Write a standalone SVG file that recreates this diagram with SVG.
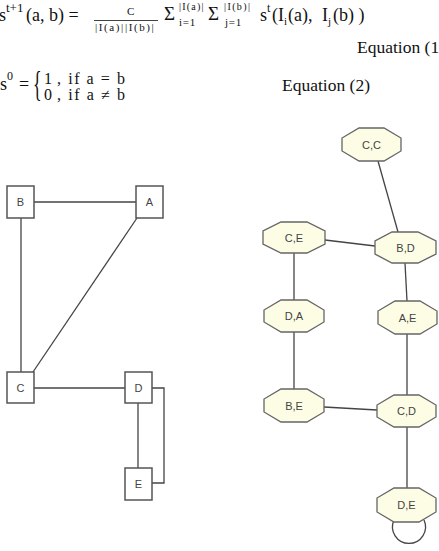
<svg xmlns="http://www.w3.org/2000/svg" width="439" height="551" viewBox="0 0 439 551">
<style>
.m{font-family:"Liberation Serif","Times New Roman",serif;fill:#111}
.b{fill:#fff;stroke:#555;stroke-width:1.5}
.o{fill:#fdfde6;stroke:#666;stroke-width:1.3}
.t{font-family:"Liberation Sans",Arial,sans-serif;font-size:11px;fill:#444;text-anchor:middle}
.e{stroke:#444;stroke-width:1.3;fill:none}
</style>
<rect width="439" height="551" fill="#fff"/>
<g id="equations">
<text class="m" x="-1" y="21" font-size="18">s</text>
<text class="m" x="6" y="12" font-size="13">t+1</text>
<text class="m" x="26" y="21" font-size="18">(a, b) =</text>
<text class="m" x="127" y="15" font-size="11">C</text>
<line x1="94" y1="20.5" x2="158" y2="20.5" stroke="#111" stroke-width="0.8"/>
<text class="m" x="95" y="31" font-size="11" letter-spacing="1.6">|I(a)||I(b)|</text>
<text class="m" x="164" y="20" font-size="19">Σ</text>
<text class="m" x="179" y="10" font-size="10" letter-spacing="1.2">|I(a)|</text>
<text class="m" x="179" y="26" font-size="11" letter-spacing="0.8">i=1</text>
<text class="m" x="208" y="20" font-size="19">Σ</text>
<text class="m" x="224" y="10" font-size="10" letter-spacing="1.4">|I(b)|</text>
<text class="m" x="225" y="26" font-size="11" letter-spacing="0.8">j=1</text>
<text class="m" x="260" y="21" font-size="18">s</text>
<text class="m" x="267" y="12" font-size="12">t</text>
<text class="m" y="21" font-size="18"><tspan x="272">(I</tspan><tspan x="284" dy="4" font-size="11">i</tspan><tspan x="288" dy="-4">(a),</tspan><tspan x="322">I</tspan><tspan x="328" dy="4" font-size="11">j</tspan><tspan x="333" dy="-4">(b) )</tspan></text>
<text class="m" x="357" y="53" font-size="17.5">Equation (1</text>
<text class="m" x="0" y="90" font-size="18">s</text>
<text class="m" x="7" y="80" font-size="12">0</text>
<text class="m" x="19" y="90" font-size="18">=</text>
<text class="m" transform="translate(33,96) scale(0.5,1)" font-size="36">{</text>
<text class="m" x="44" y="84" font-size="16">1</text>
<text class="m" x="57" y="84" font-size="16" textLength="68" lengthAdjust="spacing">, if a = b</text>
<text class="m" x="44" y="100" font-size="16">0</text>
<text class="m" x="57" y="100" font-size="16" textLength="68" lengthAdjust="spacing">, if a ≠ b</text>
<text class="m" x="282" y="91" font-size="17.5">Equation (2)</text>
</g>
<g id="connectors">
<line class="e" x1="34" y1="202" x2="136" y2="202"/>
<line class="e" x1="21" y1="218" x2="21" y2="372"/>
<line class="e" x1="137" y1="218" x2="33" y2="372"/>
<line class="e" x1="34" y1="388" x2="125" y2="388"/>
<line class="e" x1="138" y1="403" x2="138" y2="468"/>
<polyline class="e" points="152,388 164,388 164,483 152,483"/>
<line class="e" x1="378" y1="161" x2="398" y2="232"/>
<line class="e" x1="325" y1="240" x2="375" y2="246"/>
<line class="e" x1="294" y1="253" x2="294" y2="300"/>
<line class="e" x1="405" y1="263" x2="407" y2="301"/>
<line class="e" x1="294" y1="332" x2="294" y2="389"/>
<line class="e" x1="407" y1="334" x2="407" y2="395"/>
<line class="e" x1="324" y1="407" x2="377" y2="410"/>
<line class="e" x1="407" y1="427" x2="407" y2="488"/>
<path class="e" d="M394 520 A16.5 16.5 0 1 0 424 520"/>
</g>
<g id="B"><rect class="b" x="7" y="186" width="27" height="32"/><text class="t" x="20.5" y="206">B</text></g>
<g id="A"><rect class="b" x="136" y="186" width="27" height="32"/><text class="t" x="149.5" y="206">A</text></g>
<g id="C"><rect class="b" x="7" y="372" width="27" height="31"/><text class="t" x="20.5" y="392">C</text></g>
<g id="D"><rect class="b" x="125" y="372" width="27" height="31"/><text class="t" x="138.5" y="392">D</text></g>
<g id="E"><rect class="b" x="125" y="468" width="27" height="32"/><text class="t" x="138.5" y="488">E</text></g>
<g id="CC"><polygon class="o" points="359,128 384,128 401,138 401,151 384,161 359,161 342,151 342,138"/><text class="t" x="371.5" y="148.5">C,C</text></g>
<g id="CE"><polygon class="o" points="281,222 307,222 325,231 325,244 307,253 281,253 263,244 263,231"/><text class="t" x="294" y="241.5">C,E</text></g>
<g id="BD"><polygon class="o" points="392,232 418,232 436,241 436,254 418,263 392,263 375,254 375,241"/><text class="t" x="405.5" y="251.5">B,D</text></g>
<g id="DA"><polygon class="o" points="281,300 307,300 324,310 324,322 307,332 281,332 264,322 264,310"/><text class="t" x="294" y="320">D,A</text></g>
<g id="AE"><polygon class="o" points="395,301 420,301 437,311 437,324 420,334 395,334 378,324 378,311"/><text class="t" x="407.5" y="321.5">A,E</text></g>
<g id="BE"><polygon class="o" points="281,389 307,389 324,399 324,412 307,422 281,422 264,412 264,399"/><text class="t" x="294" y="409.5">B,E</text></g>
<g id="CD"><polygon class="o" points="394,395 419,395 436,405 436,417 419,427 394,427 377,417 377,405"/><text class="t" x="406.5" y="415">C,D</text></g>
<g id="DE"><polygon class="o" points="394,488 419,488 436,498 436,512 419,522 394,522 377,512 377,498"/><text class="t" x="406.5" y="509">D,E</text></g>
</svg>
